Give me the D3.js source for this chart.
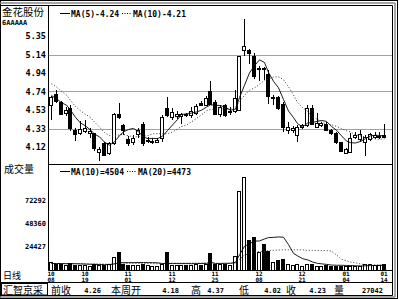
<!DOCTYPE html>
<html>
<head>
<meta charset="utf-8">
<script src="https://cdn.jsdelivr.net/npm/d3@7"></script>
<style>
  body { margin: 0; background: #fff; }
  text { font-family: "DejaVu Sans Mono", monospace; font-weight: bold; fill: #000; }
  .cjk { font-family: "Noto Sans CJK SC", sans-serif; font-weight: normal; }
</style>
</head>
<body>
<div id="chart"></div>
<script>
// Data (daily candles 10/08 .. 01/14)
//-------------------------------------------------------
var stockName = "金花股份";
var stockCode = "6AAAAA";

var open  = [4.58,4.71,4.62,4.50,4.55,4.31,4.27,4.30,4.27,4.27,
             4.07,4.16,4.05,4.16,4.49,4.36,4.21,4.17,4.26,4.38,
             4.19,4.18,4.18,4.22,4.55,4.45,4.46,4.46,4.49,4.47,
             4.50,4.61,4.58,4.74,4.62,4.49,4.58,4.51,4.52,4.53,
             5.20,5.19,5.13,4.99,5.00,4.93,4.67,4.67,4.60,4.31,
             4.31,4.25,4.34,4.36,4.55,4.34,4.36,4.38,4.31,4.28,
             4.17,4.05,4.06,4.23,4.21,4.18,4.21,4.23,4.23,4.25];
var high  = [4.69,4.75,4.63,4.56,4.58,4.33,4.41,4.42,4.33,4.28,
             4.12,4.18,4.18,4.50,4.61,4.38,4.24,4.25,4.33,4.40,
             4.23,4.22,4.22,4.47,4.67,4.55,4.52,4.50,4.50,4.56,
             4.60,4.63,4.68,4.85,4.64,4.58,4.60,4.56,4.75,5.13,
             5.54,5.21,5.16,5.02,5.01,4.97,4.70,4.69,4.62,4.40,
             4.35,4.36,4.38,4.58,4.58,4.50,4.40,4.40,4.32,4.29,
             4.18,4.11,4.27,4.29,4.31,4.25,4.28,4.29,4.29,4.37];
var low   = [4.42,4.61,4.47,4.46,4.30,4.19,4.25,4.27,4.22,4.08,
             3.96,4.02,4.03,4.14,4.43,4.25,4.13,4.14,4.22,4.13,
             4.16,4.15,4.16,4.18,4.45,4.42,4.43,4.38,4.45,4.44,
             4.48,4.58,4.57,4.58,4.47,4.45,4.45,4.47,4.50,4.52,
             5.13,5.04,4.87,4.85,4.86,4.60,4.58,4.53,4.29,4.26,
             4.28,4.17,4.32,4.34,4.36,4.33,4.34,4.30,4.25,4.15,
             4.06,4.04,4.05,4.21,4.18,4.02,4.19,4.21,4.21,4.22];
var close = [4.67,4.63,4.49,4.53,4.33,4.26,4.32,4.33,4.30,4.11,
             4.10,4.03,4.16,4.49,4.45,4.31,4.16,4.22,4.31,4.16,
             4.20,4.19,4.20,4.45,4.47,4.51,4.49,4.49,4.47,4.52,
             4.57,4.59,4.66,4.60,4.49,4.56,4.47,4.52,4.66,5.13,
             5.24,5.16,4.91,4.99,4.98,4.69,4.67,4.55,4.34,4.34,
             4.33,4.34,4.36,4.55,4.38,4.39,4.39,4.31,4.27,4.17,
             4.08,4.10,4.22,4.25,4.26,4.23,4.26,4.25,4.24,4.23];
var volume = [7500,6000,5500,4500,6500,5000,5000,4500,4000,5500,
              5000,5000,5500,12500,18500,6000,5000,4500,4500,6000,
              4500,4000,4000,5500,18500,5000,5000,4500,4500,5000,
              5500,5000,5500,17000,6000,5500,6000,5000,14000,82000,
              96000,30500,33500,18500,27000,19500,8000,10000,10500,5500,
              4200,5600,4000,6200,5400,4000,3600,4200,3500,3720,
              3800,3400,3900,3500,3398,6200,5400,5000,5200,5242];

// closes / volumes before the first visible day (feed the moving averages)
var prevClose  = [4.98,4.96,4.95,4.94,4.92,4.80,4.72,4.66,4.60];
var prevVolume = [6500,7000,5800,6200,6000,5500,6800,6300,5900,6100,
                  6400,5700,6600,6000,5800,6200,6500,6100,5900];

// Axis labels
var priceTickValues = [5.35,5.145,4.94,4.735,4.53,4.325,4.12];
var priceTickLabels = ["5.35","5.14","4.94","4.74","4.53","4.33","4.12"];
var priceGrid = [5.145,4.735,4.325];
var volTickValues = [72292,48360,24427];
var dateIndex = [0,7,16,25,34,43,52,61,69];
var dateMonth = ["10","10","11","11","11","12","12","01","01"];
var dateDay   = ["08","19","01","12","25","08","21","04","14"];

// Layout
//-------------------------------------------------------
var svgWidth = 399, svgHeight = 299;
var plotL = 48.5, plotR = 392.5;
var priceTop = 5.5, priceBot = 164.5, volBot = 270.5, barTop = 282.5, barBot = 295.5;

var svg = d3.select("#chart").append("svg")
    .attr("width", svgWidth).attr("height", svgHeight)
    .style("display", "block");
svg.append("rect").attr("width", svgWidth).attr("height", svgHeight).attr("fill", "#fff");

var defs = svg.append("defs");
defs.append("clipPath").attr("id", "clipPrice").append("rect")
    .attr("x", plotL + 0.5).attr("y", priceTop + 0.5)
    .attr("width", plotR - plotL - 1).attr("height", priceBot - priceTop - 1);
defs.append("clipPath").attr("id", "clipVol").append("rect")
    .attr("x", plotL + 0.5).attr("y", priceBot + 0.5)
    .attr("width", plotR - plotL - 1).attr("height", volBot - priceBot - 1);

// Scales
var xBand = d3.scaleBand().domain(d3.range(close.length)).range([49.6, 387.7]);
var y = d3.scaleLinear().domain([4.12, 5.35]).range([147, 36]);
var yv = d3.scaleLinear().domain([0, 72292]).range([269.5, 200]);
function cx(i) { return Math.round(xBand(i) + xBand.bandwidth() / 2); }

function movingAvg(series, prev, n) {
    var all = prev.concat(series), off = prev.length;
    return series.map(function(d, i) {
        return d3.mean(all.slice(off + i - n + 1, off + i + 1));
    });
}
var ma5 = movingAvg(close, prevClose, 5);
var ma10 = movingAvg(close, prevClose, 10);
var vma10 = movingAvg(volume, prevVolume, 10);
var vma20 = movingAvg(volume, prevVolume, 20);
var last = close.length - 1;

// Frame
//-------------------------------------------------------
svg.append("rect").attr("x", 0.5).attr("y", 0.5).attr("width", 397).attr("height", 298)
    .attr("fill", "none").attr("stroke", "#000");
[[0, 3, 395, 3], [395, 3, 395, 297], [0, 297, 395, 297]].forEach(function(l) {
    svg.append("line").attr("x1", l[0]).attr("y1", l[1]).attr("x2", l[2]).attr("y2", l[3])
        .attr("stroke", "#888").attr("stroke-width", 1.5);
});
[[0, priceTop, plotR, priceTop], [plotR, priceTop, plotR, barBot], [0, barBot, plotR, barBot],
 [plotL, priceTop, plotL, volBot], [plotL, priceBot, plotR, priceBot], [plotL, volBot, plotR, volBot],
 [0, barTop, plotR, barTop]].forEach(function(l) {
    svg.append("line").attr("x1", l[0]).attr("y1", l[1]).attr("x2", l[2]).attr("y2", l[3])
        .attr("stroke", "#000");
});
// box round the software name
svg.append("rect").attr("x", 1.5).attr("y", barTop + 1).attr("width", 46).attr("height", 11.5)
    .attr("fill", "none").attr("stroke", "#000");

// Price pane
//-------------------------------------------------------
svg.append("text").attr("class", "cjk").attr("x", 2).attr("y", 16)
    .style("font-size", "10.5px").text(stockName);
svg.append("text").attr("x", 2).attr("y", 25)
    .style("font-size", "7px").text(stockCode);

var priceAxis = d3.axisLeft(y).tickValues(priceTickValues)
    .tickFormat(function(d, i) { return priceTickLabels[i]; }).tickSize(0).tickPadding(0);
var pAxisG = svg.append("g").attr("transform", "translate(46,0)").call(priceAxis);
pAxisG.select(".domain").remove();
pAxisG.selectAll("text").style("font-size", "8.5px")
    .style("font-family", "DejaVu Sans Mono").style("font-weight", "bold").attr("fill", "#000");

svg.selectAll(".pgrid").data(priceGrid).enter().append("line")
    .attr("x1", plotL).attr("x2", plotR)
    .attr("y1", function(d) { return Math.round(y(d)) + 0.5; })
    .attr("y2", function(d) { return Math.round(y(d)) + 0.5; })
    .attr("stroke", "#444").attr("stroke-dasharray", "1,1");

var priceG = svg.append("g").attr("clip-path", "url(#clipPrice)");
var candles = priceG.selectAll(".candle").data(d3.range(close.length)).enter()
    .append("g").attr("class", "candle");
candles.append("line")
    .attr("x1", function(i) { return cx(i) - 0.5; }).attr("x2", function(i) { return cx(i) - 0.5; })
    .attr("y1", function(i) { return Math.round(y(high[i])); })
    .attr("y2", function(i) { return Math.round(y(low[i])); })
    .attr("stroke", "#000");
candles.append("rect")
    .attr("x", function(i) { return cx(i) - 2.5; })
    .attr("y", function(i) { return Math.round(y(Math.max(open[i], close[i]))) + 0.5; })
    .attr("width", 3)
    .attr("height", function(i) {
        return Math.max(1, Math.round(y(Math.min(open[i], close[i]))) - Math.round(y(Math.max(open[i], close[i]))));
    })
    .attr("fill", function(i) { return close[i] >= open[i] ? "#fff" : "#000"; })
    .attr("stroke", "#000");

var lineP = function(arr) {
    return d3.line().x(function(d, i) { return cx(i) - 0.5; }).y(function(d) { return y(d); })(arr);
};
priceG.append("path").attr("d", lineP(ma10)).attr("fill", "none")
    .attr("stroke", "#333").attr("stroke-dasharray", "1,2");
priceG.append("path").attr("d", lineP(ma5)).attr("fill", "none")
    .attr("stroke", "#000").attr("stroke-width", 0.9);

// legend
svg.append("line").attr("x1", 60).attr("x2", 70).attr("y1", 13.5).attr("y2", 13.5).attr("stroke", "#000");
svg.append("text").attr("x", 71).attr("y", 16.5).style("font-size", "8px")
    .text("MA(5)-" + ma5[last].toFixed(2));
svg.append("line").attr("x1", 122).attr("x2", 132).attr("y1", 13.5).attr("y2", 13.5)
    .attr("stroke", "#000").attr("stroke-dasharray", "1,1.5");
svg.append("text").attr("x", 133).attr("y", 16.5).style("font-size", "8px")
    .text("MA(10)-" + ma10[last].toFixed(2));

// Volume pane
//-------------------------------------------------------
svg.append("text").attr("class", "cjk").attr("x", 4).attr("y", 173)
    .style("font-size", "10px").text("成交量");

var volAxis = d3.axisLeft(yv).tickValues(volTickValues).tickSize(0).tickPadding(0)
    .tickFormat(d3.format("d"));
var vAxisG = svg.append("g").attr("transform", "translate(46,0)").call(volAxis);
vAxisG.select(".domain").remove();
vAxisG.selectAll("text").style("font-size", "7px")
    .style("font-family", "DejaVu Sans Mono").style("font-weight", "bold").attr("fill", "#000");

var volG = svg.append("g").attr("clip-path", "url(#clipVol)");
volG.selectAll(".vbar").data(d3.range(volume.length)).enter().append("rect")
    .attr("x", function(i) { return cx(i) - 2.5; })
    .attr("y", function(i) { return Math.round(yv(volume[i])) + 0.5; })
    .attr("width", 3)
    .attr("height", function(i) { return Math.max(0, Math.round(yv(0)) - Math.round(yv(volume[i]))); })
    .attr("fill", function(i) { return close[i] >= open[i] ? "#fff" : "#000"; })
    .attr("stroke", "#000");

var lineV = function(arr) {
    return d3.line().x(function(d, i) { return cx(i) - 0.5; }).y(function(d) { return yv(d); })(arr);
};
volG.append("path").attr("d", lineV(vma20)).attr("fill", "none")
    .attr("stroke", "#333").attr("stroke-dasharray", "1,2");
volG.append("path").attr("d", lineV(vma10)).attr("fill", "none")
    .attr("stroke", "#000").attr("stroke-width", 0.9);

svg.append("line").attr("x1", 60).attr("x2", 70).attr("y1", 171.5).attr("y2", 171.5).attr("stroke", "#000");
svg.append("text").attr("x", 71).attr("y", 174.5).style("font-size", "8px")
    .text("MA(10)=" + Math.round(vma10[last]));
svg.append("line").attr("x1", 127).attr("x2", 137).attr("y1", 171.5).attr("y2", 171.5)
    .attr("stroke", "#000").attr("stroke-dasharray", "1,1.5");
svg.append("text").attr("x", 138).attr("y", 174.5).style("font-size", "8px")
    .text("MA(20)=" + Math.round(vma20[last]));

// Date row
//-------------------------------------------------------
svg.append("text").attr("class", "cjk").attr("x", 3).attr("y", 279)
    .style("font-size", "9px").text("日线");
var dateG = svg.selectAll(".dlabel").data(dateIndex).enter().append("g")
    .attr("transform", function(d) { return "translate(" + Math.max(47, cx(d) - 1) + ",0)"; });
dateG.append("text").attr("y", 275.5).attr("text-anchor", "middle").style("font-size", "6px")
    .text(function(d, i) { return dateMonth[i]; });
dateG.append("text").attr("y", 281.5).attr("text-anchor", "middle").style("font-size", "6px")
    .text(function(d, i) { return dateDay[i]; });

// Bottom info bar (last week)
//-------------------------------------------------------
var weekStart = 65;
var weekHigh = d3.max(high.slice(weekStart)), weekLow = d3.min(low.slice(weekStart));
var barLabels = ["前收", "本周开", "高", "低", "收", "量"];
var barValues = [close[weekStart - 1].toFixed(2), open[weekStart].toFixed(2), weekHigh.toFixed(2),
                 weekLow.toFixed(2), close[last].toFixed(2), String(d3.sum(volume.slice(weekStart)))];
var barLabelX = [51, 111, 191, 239, 286, 334];
var barValueX = [101, 179, 224, 281, 326, 383];

svg.append("text").attr("class", "cjk").attr("x", 3).attr("y", 293.5)
    .style("font-size", "10px").text("汇智京采");
barLabels.forEach(function(t, i) {
    svg.append("text").attr("class", "cjk").attr("x", barLabelX[i]).attr("y", 293.5)
        .style("font-size", "10px").text(t);
    svg.append("text").attr("x", barValueX[i]).attr("y", 292.5).attr("text-anchor", "end")
        .style("font-size", "7px").text(barValues[i]);
});
</script>
</body>
</html>
